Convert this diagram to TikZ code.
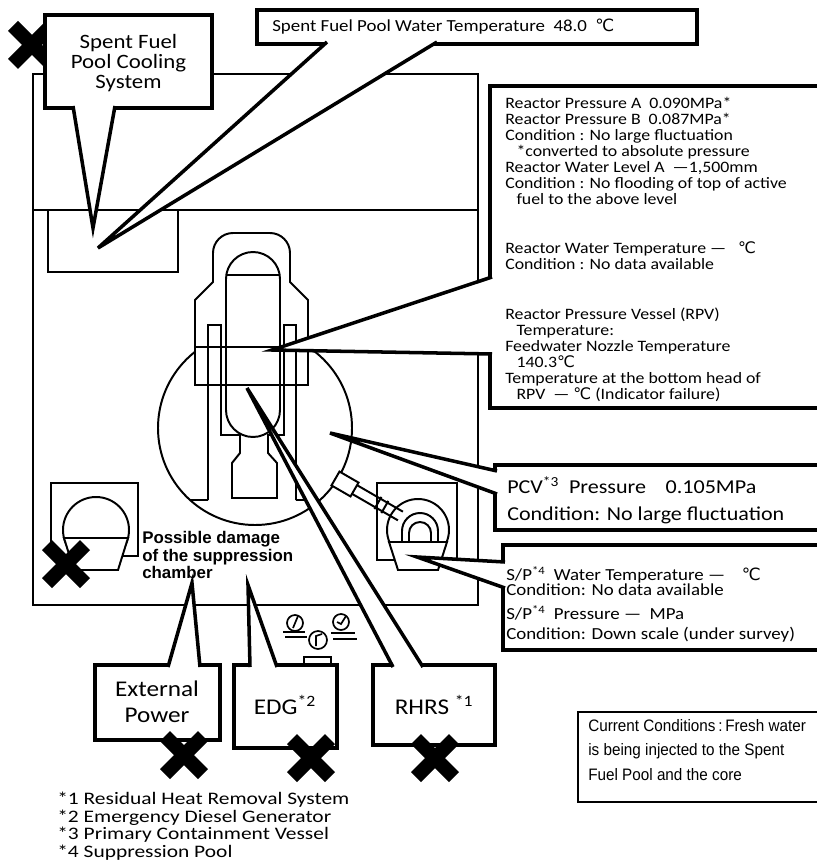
\documentclass[tikz,border=0pt]{standalone}
\usepackage{fontspec}
\setmainfont{Carlito}[FakeStretch=1.12]
\newfontfamily\legendfont{Carlito}[FakeStretch=1.22]
\newfontfamily\arialfont{Liberation Sans}[FakeStretch=0.92]
\newfontfamily\helvfont{Liberation Sans}
\newfontfamily\symbfont{DejaVu Sans}
\usetikzlibrary{calc, fit}
\newcommand{\degc}{{\symbfont ℃}}
\tikzset{
    wall/.style={line width=2.1pt},
    part/.style={line width=1.4pt},
    balloon/.style={rectangle, draw, fill=white, line width=2.5pt, inner sep=0pt, outer sep=0pt},
    infobox/.style={balloon, line width=2.8pt},
    wedge/.style={draw, fill=white, line width=2.5pt},
    readout/.style={inner sep=0pt, align=left, font=\fontsize{11.3}{11.34}\selectfont},
    bigtext/.style={inner sep=0pt, align=center, font=\fontsize{16}{18.4}\selectfont},
    failmark/.pic={\fill (0,-10) -- (14,-24) -- (24,-14) -- (10,0) -- (24,14) -- (14,24) -- (0,10) -- (-14,24) -- (-24,14) -- (-10,0) -- (-24,-14) -- (-14,-24) -- cycle;}
}
\begin{document}
\begin{tikzpicture}[x=0.025cm, y=-0.025cm]
    \useasboundingbox (0,0) rectangle (816,860);

    % Reactor building
    \draw[wall] (33,74) rectangle (478,605);
    \draw[wall] (33,210) -- (478,210);
    % Spent fuel pool
    \draw[wall] (48,210) -- (48,272) -- (178,272) -- (178,210);

    % Drywell
    \draw[part] (255,428) circle[radius=97];
    \fill[white] (196,300) rectangle (307,384);
    \draw[part] (195,347) -- (195,300) -- (213,282) -- (213,253) arc[start angle=180, end angle=270, radius=20] -- (270,233) arc[start angle=270, end angle=360, radius=20] -- (290,282) -- (308,300) -- (308,347);
    \draw[part] (195,347) rectangle (308,385);
    \draw[part] (190,500) -- (208,500) (296,500) -- (320,500);

    % Shield wall and pedestal
    \draw[part] (208,500) -- (208,325) -- (221,325) -- (221,435) -- (240,435) -- (240,453) -- (232,463) -- (232,498) -- (277,498) -- (277,463) -- (268,453) -- (268,435) -- (284,435) -- (284,325) -- (296,325) -- (296,500);

    % Reactor pressure vessel
    \draw[part] (226,279) arc[start angle=180, end angle=360, radius=27] -- (280,410) arc[start angle=0, end angle=180, radius=27] -- cycle;
    \draw[part] (227,275) -- (279,275);

    % Suppression chamber (right)
    \draw[part] (377,483) rectangle (457,560);
    \draw[part] (418,530) circle[radius=31];
    \filldraw[part, fill=white] (389,542) -- (447,542) -- (438,570) -- (398,570) -- cycle;
    \draw[part] (402,542) -- (402,531) arc[start angle=180, end angle=360, radius=18] -- (438,542);
    \draw[part] (409,542) -- (409,533) arc[start angle=180, end angle=360, radius=11] -- (431,542);
    \begin{scope}[shift={(345,484)}, rotate=-30]
        \draw[part, fill=white] (-11,-8) rectangle (11,8);
        \draw[part] (11,-5) -- (64,-5) (11,5) -- (64,5) (38,-7) -- (38,7) (46,-7) -- (46,7);
    \end{scope}

    % Suppression chamber (left)
    \draw[part] (51,483) rectangle (138,556);
    \draw[part] (96,530) circle[radius=33];
    \filldraw[part, fill=white] (64,538) -- (128,538) -- (118,570) -- (74,570) -- cycle;

    % Gauges
    \draw[part, line width=1.2pt] (295,623) circle[radius=8] (318,640) circle[radius=9] (341,622) circle[radius=8];
    \draw[part, line width=1.2pt] (293,628) -- (298,616) (316,646) -- (316,636) -- (322,634) (337,622) -- (341,624) -- (346,616);
    \draw[part, line width=1.2pt] (283,632) -- (305,632) (285,637) -- (307,637) (331,633) -- (355,633) (333,639) -- (357,639);
    \draw[part] (304,665) -- (304,657) -- (331,657) -- (331,665);

    % Cooling system failed
    \pic at (32,45) {failmark};

    % Spent fuel pool cooling callout
    \coordinate (sfpc a) at (45,15);
    \coordinate (sfpc b) at (212,108);
    \coordinate (sfpc tip) at (93,228);
    \node[balloon, fit=(sfpc a)(sfpc b)] (sfpc) {};
    \filldraw[wedge] ($(sfpc.south west)+(28,-2)$) -- (sfpc tip) -- ($(sfpc.south west)+(70,-2)$);
    \node[inner sep=0pt, align=center, font=\fontsize{14.5}{14.2}\selectfont] (sfpc text) at ($(sfpc)+(0,2)$) {Spent Fuel\\Pool Cooling\\System};

    % Pool water temperature callout
    \coordinate (wt a) at (257,10);
    \coordinate (wt b) at (697,44);
    \coordinate (wt tip) at (98,248);
    \node[balloon, fit=(wt a)(wt b)] (wt) {};
    \filldraw[wedge] ($(wt.south west)+(70,-2)$) -- (wt tip) -- ($(wt.south west)+(180,-2)$);
    \node[inner sep=0pt, anchor=west, font=\fontsize{12}{14}\selectfont] (wt text) at (272,27) {Spent Fuel Pool Water Temperature\enspace 48.0\enspace\degc};

    % Reactor readings callout
    \coordinate (rpv a) at (490,86);
    \coordinate (rpv b) at (840,408);
    \coordinate (rpv tip) at (272,350);
    \node[infobox, fit=(rpv a)(rpv b)] (rpv) {};
    \filldraw[wedge] ($(rpv.north west)+(2,191)$) -- (rpv tip) -- ($(rpv.north west)+(2,268)$);
    \node[readout, anchor=north west] (rpv text) at (505,97) {Reactor Pressure A\enspace 0.090MPa*\\
        Reactor Pressure B\enspace 0.087MPa*\\
        Condition : No large fluctuation\\
        \hspace*{8pt}*converted to absolute pressure\\
        Reactor Water Level A\enspace —1,500mm\\
        Condition : No flooding of top of active\\
        \hspace*{8pt}fuel to the above level\\[24pt]
        Reactor Water Temperature — \enspace\degc\\
        Condition : No data available\\[24pt]
        Reactor Pressure Vessel (RPV)\\
        \hspace*{8pt}Temperature:\\
        Feedwater Nozzle Temperature\\
        \hspace*{8pt}140.3\degc\\
        Temperature at the bottom head of\\
        \hspace*{8pt}RPV\enspace — \degc\ (Indicator failure)};

    % PCV callout
    \coordinate (pcv a) at (495,465);
    \coordinate (pcv b) at (840,530);
    \coordinate (pcv tip) at (330,433);
    \node[infobox, fit=(pcv a)(pcv b)] (pcv) {};
    \filldraw[wedge] ($(pcv.north west)+(2,6)$) -- (pcv tip) -- ($(pcv.north west)+(2,29)$);
    \node[inner sep=0pt, align=left, anchor=west, font=\fontsize{14}{19.1}\selectfont] (pcv text) at (507,500) {PCV\textsuperscript{*3}\enspace Pressure\quad 0.105MPa\\Condition: No large fluctuation};

    % Suppression pool callout
    \coordinate (sp a) at (503,545);
    \coordinate (sp b) at (840,650);
    \coordinate (sp tip) at (417,557);
    \node[infobox, fit=(sp a)(sp b)] (sp) {};
    \filldraw[wedge] ($(sp.north west)+(2,17)$) -- (sp tip) -- ($(sp.north west)+(2,43)$);
    \node[inner sep=0pt, align=left, anchor=north west, font=\fontsize{12}{10.6}\selectfont] (sp text) at (506,566) {S/P\textsuperscript{*4}\enspace Water Temperature —\quad\degc\\
        Condition: No data available\\[6.4pt]
        S/P\textsuperscript{*4}\enspace Pressure —\enspace MPa\\[3.6pt]
        Condition: Down scale (under survey)};

    % Current conditions
    \coordinate (cc a) at (578,712);
    \coordinate (cc b) at (840,802);
    \node[balloon, line width=2pt, fit=(cc a)(cc b)] (cc) {};
    \node[inner sep=0pt, align=left, anchor=west, font=\arialfont\fontsize{11.8}{17.7}\selectfont] (cc text) at (588,750) {Current Conditions\,:\,Fresh water\\is being injected to the Spent\\Fuel Pool and the core};

    % Power and cooling callouts
    \coordinate (ep a) at (95,665);
    \coordinate (ep b) at (220,740);
    \coordinate (ep tip) at (192,583);
    \node[balloon, fit=(ep a)(ep b)] (ep) {};
    \filldraw[wedge] ($(ep.north west)+(73,2)$) -- (ep tip) -- ($(ep.north west)+(105,2)$);
    \node[bigtext] (ep text) at (157,702) {External\\Power};

    \coordinate (edg a) at (234,665);
    \coordinate (edg b) at (337,748);
    \coordinate (edg tip) at (248,585);
    \node[balloon, fit=(edg a)(edg b)] (edg) {};
    \filldraw[wedge] ($(edg.north west)+(16,2)$) -- (edg tip) -- ($(edg.north west)+(43,2)$);
    \node[bigtext] (edg text) at (285,705) {EDG\textsuperscript{*2}};

    \coordinate (rhrs a) at (373,665);
    \coordinate (rhrs b) at (495,745);
    \coordinate (rhrs tip) at (247,388);
    \node[balloon, fit=(rhrs a)(rhrs b)] (rhrs) {};
    \filldraw[wedge] ($(rhrs.north west)+(20,2)$) -- (rhrs tip) -- ($(rhrs.north west)+(50,2)$);
    \node[bigtext] (rhrs text) at (434,705) {RHRS \textsuperscript{*1}};

    % Failed systems
    \pic at (66,564) {failmark};
    \pic at (184,755) {failmark};
    \pic at (311,758) {failmark};
    \pic at (435,758) {failmark};

    % Notes
    \node[inner sep=0pt, align=left, anchor=west, font=\helvfont\bfseries\fontsize{12}{12.4}\selectfont] (damage) at (142,555) {Possible damage\\of the suppression\\chamber};
    \node[inner sep=0pt, align=left, anchor=west, font=\legendfont\fontsize{12.5}{12.5}\selectfont] (legend) at (57,826) {*1 Residual Heat Removal System\\*2 Emergency Diesel Generator\\*3 Primary Containment Vessel\\*4 Suppression Pool};
\end{tikzpicture}
\end{document}
